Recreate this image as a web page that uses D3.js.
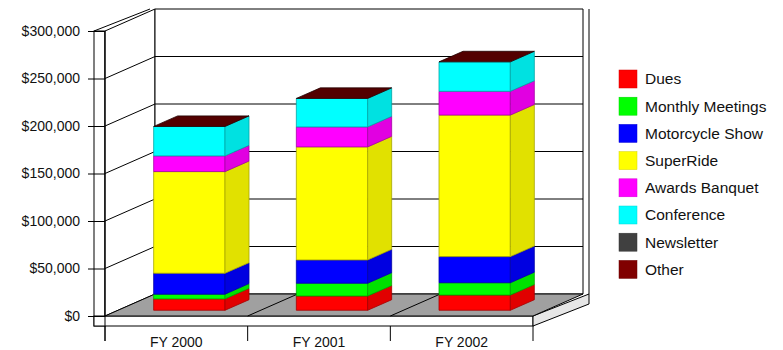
<!DOCTYPE html>
<html>
<head>
<meta charset="utf-8">
<script src="https://cdn.jsdelivr.net/npm/d3@7"></script>
<style>
  body { margin: 0; background: #fff; }
  svg { display: block; font-family: Arial, "Liberation Sans", sans-serif; }
</style>
</head>
<body>
<svg width="783" height="350"></svg>
<script>
// data
const years = ["FY 2000", "FY 2001", "FY 2002"];
const seriesNames = ["Dues", "Monthly Meetings", "Motorcycle Show", "SuperRide",
  "Awards Banquet", "Conference", "Newsletter", "Other"];
const seriesColors = ["#ff0000", "#00ff00", "#0000ff", "#ffff00",
  "#ff00ff", "#00ffff", "#404040", "#800000"];
const dues = [12000, 15000, 16000];
const monthlyMeetings = [5000, 13500, 13000];
const motorcycleShow = [22000, 24500, 27500];
const superRide = [107000, 119000, 149000];
const awardsBanquet = [16500, 21000, 25000];
const conference = [31000, 30000, 31000];
const newsletter = [0, 0, 0];
const other = [0, 0, 0];
const yTicks = [0, 50000, 100000, 150000, 200000, 250000, 300000];

const allSeries = [dues, monthlyMeetings, motorcycleShow, superRide,
  awardsBanquet, conference, newsletter, other];

const svg = d3.select("svg");

// oblique depth offset for the whole plot box
const DX = 50, DY = -22;
const x = d3.scaleBand().domain(years).range([105, 533])
  .paddingInner(0.5).paddingOuter(0.25);
const y = d3.scaleLinear().domain([0, 300000]).range([316, 31]);

const proj = (px, v, z) => [px + z * DX, y(v) + z * DY];
const poly = pts => pts.map(p => p.join(",")).join(" ");

const x0 = x.range()[0], x1 = x.range()[1];
const yMax = y.domain()[1];

// left wall slab (thickness)
svg.append("rect").attr("x", 94).attr("y", y(yMax)).attr("width", 11)
  .attr("height", 326 - y(yMax)).attr("fill", "#fff").attr("stroke", "#000");
svg.append("line")
  .attr("x1", 94).attr("y1", y(yMax)).attr("x2", 150).attr("y2", y(yMax) + DY)
  .attr("stroke", "#000");

// left wall
svg.append("polygon")
  .attr("points", poly([proj(x0, 0, 0), proj(x0, yMax, 0), proj(x0, yMax, 1), proj(x0, 0, 1)]))
  .attr("fill", "#fff").attr("stroke", "#000");

// back wall
svg.append("polygon")
  .attr("points", poly([proj(x0, 0, 1), proj(x0, yMax, 1), proj(x1, yMax, 1), proj(x1, 0, 1)]))
  .attr("fill", "#fff").attr("stroke", "#000");

// gridlines on both walls
yTicks.filter(t => t > 0 && t < yMax).forEach(t => {
  const a = proj(x0, t, 0), b = proj(x0, t, 1), c = proj(x1, t, 1);
  svg.append("polyline").attr("points", poly([a, b, c]))
    .attr("fill", "none").attr("stroke", "#000");
});

// floor slab
svg.append("rect").attr("x", 94).attr("y", y(0)).attr("width", x1 - 94)
  .attr("height", 10).attr("fill", "#fff").attr("stroke", "#000");
svg.append("polygon")
  .attr("points", poly([proj(x1, 0, 0), [x1 + DX + 6, y(0) + DY],
    [x1 + DX + 6, y(0) + DY + 10], [x1, y(0) + 10]]))
  .attr("fill", "#e6e6e6").attr("stroke", "#000");
svg.append("line").attr("x1", x1 + DX + 6).attr("y1", y(yMax) + DY)
  .attr("x2", x1 + DX + 6).attr("y2", y(0) + DY).attr("stroke", "#000");

// floor
svg.append("polygon")
  .attr("points", poly([proj(x0, 0, 0), proj(x1, 0, 0), proj(x1, 0, 1), proj(x0, 0, 1)]))
  .attr("fill", "#a0a0a0").attr("stroke", "#000");
const step = x.step();
[1, 2].forEach(i => {
  const bx = x0 + i * step;
  svg.append("line")
    .attr("x1", bx).attr("y1", y(0)).attr("x2", bx + DX).attr("y2", y(0) + DY)
    .attr("stroke", "#000");
});

// stacked 3d bars
const rows = years.map((yr, i) => {
  const r = { year: yr };
  seriesNames.forEach((s, k) => r[s] = allSeries[k][i]);
  return r;
});
const stacked = d3.stack().keys(seriesNames)(rows);
const color = d3.scaleOrdinal().domain(seriesNames).range(seriesColors);
const zFront = 0.26, zBack = 0.74;

years.forEach((yr, i) => {
  const g = svg.append("g");
  const bl = x(yr), br = x(yr) + x.bandwidth();
  stacked.forEach(layer => {
    const [v0, v1] = layer[i];
    if (v1 - v0 <= 0) return;
    const c = color(layer.key);
    g.append("polygon")
      .attr("points", poly([proj(bl, v0, zFront), proj(br, v0, zFront),
        proj(br, v1, zFront), proj(bl, v1, zFront)]))
      .attr("fill", c).attr("stroke", d3.color(c).darker(1.2)).attr("stroke-width", 0.8);
    g.append("polygon")
      .attr("points", poly([proj(br, v0, zFront), proj(br, v0, zBack),
        proj(br, v1, zBack), proj(br, v1, zFront)]))
      .attr("fill", d3.color(c).darker(0.35)).attr("stroke", d3.color(c).darker(1.2))
      .attr("stroke-width", 0.8);
  });
  const top = stacked[stacked.length - 1][i][1];
  const topColor = color(seriesNames[seriesNames.length - 1]);
  g.append("polygon")
    .attr("points", poly([proj(bl, top, zFront), proj(br, top, zFront),
      proj(br, top, zBack), proj(bl, top, zBack)]))
    .attr("fill", d3.color(topColor).darker(1.2)).attr("stroke", "#200")
    .attr("stroke-width", 0.8);
});

// y axis
const yAxis = svg.append("g").attr("transform", `translate(${x0},0)`)
  .call(d3.axisLeft(y).tickValues(yTicks).tickSize(17).tickPadding(8)
    .tickFormat(d3.format("$,.0f")));
yAxis.select(".domain").remove();
yAxis.selectAll("line").attr("stroke", "#000");
yAxis.selectAll("text").attr("font-size", 14).attr("fill", "#111")
  .attr("font-family", "Arial, 'Liberation Sans', sans-serif");
svg.append("line").attr("x1", x0).attr("y1", y(yMax)).attr("x2", x0).attr("y2", 341)
  .attr("stroke", "#000");

// x axis ticks and labels
[0, 1, 2, 3].forEach(i => {
  const bx = x0 + i * step;
  svg.append("line").attr("x1", bx).attr("y1", 326).attr("x2", bx).attr("y2", 341)
    .attr("stroke", "#000");
});
svg.selectAll(".xlab").data(years).enter().append("text")
  .attr("class", "xlab")
  .attr("x", d => x(d) + x.bandwidth() / 2)
  .attr("y", 347)
  .attr("text-anchor", "middle")
  .attr("font-size", 14).attr("fill", "#111")
  .text(d => d);

// legend
const legend = svg.append("g").attr("transform", "translate(619,70)");
seriesNames.forEach((s, k) => {
  const row = legend.append("g").attr("transform", `translate(0,${k * 27.2})`);
  row.append("rect").attr("width", 18).attr("height", 18)
    .attr("fill", color(s)).attr("stroke", d3.color(color(s)).darker(0.5)).attr("stroke-width", 0.5);
  row.append("text").attr("x", 26).attr("y", 9).attr("dy", "0.35em")
    .attr("font-size", 15.5).attr("fill", "#111").text(s);
});
</script>
</body>
</html>
